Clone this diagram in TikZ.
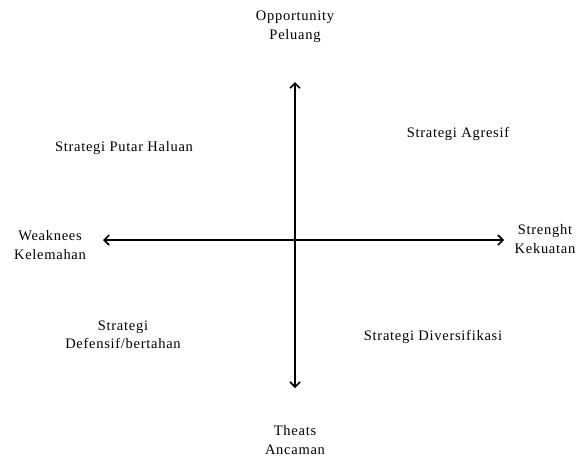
\documentclass[tikz,border=0pt]{standalone}
\usepackage{fontspec}
\setmainfont{Liberation Serif}[LetterSpace=5]
\usetikzlibrary{arrows.meta}
\begin{document}
\begin{tikzpicture}[x=1pt,y=-1pt,
  axis/.style={line width=1.6pt, {Straight Barb[length=5pt,width=10pt]}-{Straight Barb[length=5pt,width=10pt]}},
  lbl/.style={font=\fontsize{14.5}{18.5}\selectfont, align=center, inner sep=0pt}]
  \useasboundingbox (0,0) rectangle (583,456);
  % axis end points
  \coordinate (top) at (295,82);
  \coordinate (bottom) at (295,388);
  \coordinate (left) at (103,240);
  \coordinate (right) at (504,240);
  \draw[axis] (bottom) -- (top);
  \draw[axis] (left) -- (right);
  % axis labels
  \node[lbl] (opp) at (295,27) {Opportunity\\Peluang};
  \node[lbl] (thr) at (295,440) {Theats\\Ancaman};
  \node[lbl] (weak) at (50,245) {Weaknees\\Kelemahan};
  \node[lbl] (str) at (545,239) {Strenght\\Kekuatan};
  % quadrant strategies
  \node[lbl] (q2) at (124,148) {Strategi Putar Haluan};
  \node[lbl] (q1) at (458,134) {Strategi Agresif};
  \node[lbl] (q3) at (123,335) {Strategi\\Defensif/bertahan};
  \node[lbl] (q4) at (433,337) {Strategi Diversifikasi};
\end{tikzpicture}
\end{document}
